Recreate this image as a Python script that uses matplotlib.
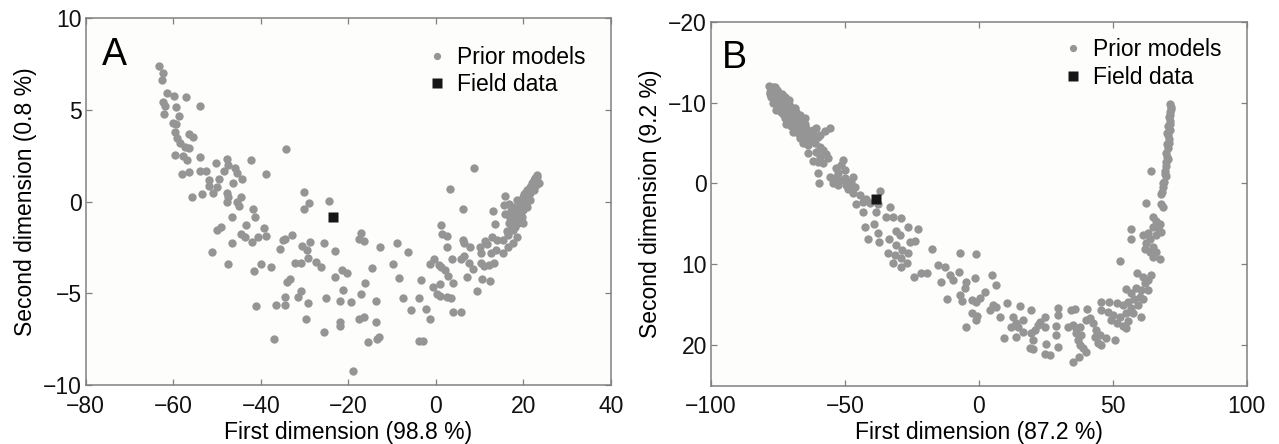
import matplotlib
matplotlib.use("Agg")
import matplotlib.pyplot as plt
from matplotlib.lines import Line2D

plt.rcParams['font.family'] = ['Liberation Sans', 'DejaVu Sans']

# ---------------- Panel A: prior models projected on the first two dimensions
prior_a_x = [
    # upper-left arm
    -63.2, -62.4, -62.6, -61.5, -59.8, -57.0, -62.3, -61.8, -59.4, -53.8,
    -62.05, -58.7, -60.15, -59.4, -59.7, -56.3, -55.4, -59.1, -58.5, -57.3,
    -56.3, -34.3, -59.5, -57.7, -56.8, -53.9, -50.25, -47.8, -47.4, -42.2,
    -46.0, -48.3, -45.5, -44.2, -53.9, -52.5, -58.0, -56.3, -38.7, -51.8,
    -49.65, -46.45, -51.9, -50.1, -47.8, -50.9, -53.45, -47.4, -44.6, -55.7,
    -30.15,
    # lower-left spread
    -47.8, -45.5, -44.9, -29.1, -30.15, -24.5, -41.7, -41.4, -46.6, -43.4,
    -39.3, -50.1, -49.0, -44.5, -43.55, -40.7, -38.7, -42.0, -46.6, -51.2,
    -47.5, -35.0, -34.4, -32.9, -35.6, -30.6, -29.55, -28.8, -25.6, -23.0,
    -29.25, -32.1, -30.8, -27.3, -26.2, -21.5, -20.4, -23.0, -39.9, -37.6,
    -41.6, -34.1, -33.35, -21.3, -30.8, -31.5, -34.4, -25.0, -21.9, -19.5,
    -29.25, -36.55, -34.4, -41.0, -29.7, -21.9, -21.9, -25.6, -37.0, -18.9,
    # lower-right spread
    -17.2, -17.67, -16.45, -12.8, -14.6, -16.3, -17.2, -13.7, -17.5, -16.45,
    -13.7, -15.5, -13.55, -12.95, -8.83, -6.4, -9.75, -8.38, -7.46, -5.64,
    -3.81, -3.35, -2.29, -1.37, -3.81, -3.05, 6.24, 1.22, 1.37, 2.59,
    2.43, 6.24, 6.39, 7.76, -0.46, -1.37, 0.61, 1.22, 2.13, 2.74,
    3.65, 3.8, 5.63, 6.39, 7.46, 8.37, 7.15, -0.76, 0.91, 0.15,
    0.91, 2.59, 3.35, 3.96, 5.63, 9.44, 10.5, 12.33, 10.05, 10.35,
    11.11, 11.57, 12.79, 14.0, 13.09, 13.55, 10.2, 10.96, 12.03, 13.25,
    12.64, 13.7, 15.53, 15.83, 16.75, 15.23, 16.44, 17.51, 18.42, 16.14,
    16.6, 17.66, 17.36, 18.27, 19.18, 19.64, 20.1, 20.71, 21.47, 22.23,
    22.99,
    # upper-right arm
    8.68, 3.2, 15.84, 23.0, 21.47, 21.85, 22.23, 22.61, 20.71, 21.09,
    20.33, 23.15, 22.39, 19.8,
    17.66, 18.12, 18.73, 18.42, 19.03, 19.79, 19.18, 20.1, 20.4, 20.86,
    21.47, 21.77, 22.38, 22.84, 23.45, 18.42, 17.66, 17.2, 16.9, 17.97,
    19.49, 20.71, 19.95, 17.28, 16.52, 15.38,
]
prior_a_y = [
    # upper-left arm
    7.38, 7.0, 6.64, 5.91, 5.78, 5.73, 5.45, 5.22, 5.18, 5.22,
    4.78, 4.67, 4.27, 4.24, 3.8, 3.67, 3.51, 3.45, 3.18, 3.0,
    2.93, 2.89, 2.53, 2.49, 2.27, 2.45, 2.13, 2.31, 2.02, 2.27,
    1.82, 1.69, 1.55, 1.22, 1.69, 1.69, 1.51, 1.64, 1.51, 1.18,
    1.22, 1.0, 0.85, 0.82, 0.49, 0.49, 0.42, 0.24, 0.24, 0.24,
    0.53,
    # lower-left spread
    -0.02, 0.0, -0.23, -0.09, -0.42, 0.04, -0.42, -0.85, -0.82, -1.27,
    -1.42, -1.54, -1.4, -1.78, -1.91, -1.91, -1.87, -2.18, -2.23, -2.74,
    -3.4, -2.09, -2.05, -1.82, -2.58, -2.4, -2.63, -2.2, -2.23, -2.69,
    -3.07, -3.36, -3.36, -3.31, -3.58, -3.72, -3.91, -4.09, -3.4, -3.54,
    -3.76, -4.36, -4.23, -4.82, -4.89, -5.22, -5.18, -5.27, -5.42, -5.47,
    -5.51, -5.63, -5.63, -5.67, -6.42, -6.54, -6.78, -7.11, -7.51, -9.23,
    # lower-right spread
    -1.72, -2.02, -2.13, -2.45, -3.6, -4.45, -5.05, -5.4, -6.42, -6.27,
    -6.56, -7.65, -7.51, -7.4, -2.27, -2.76, -3.38, -4.14, -5.23, -5.91,
    -5.23, -4.27, -5.83, -6.38, -7.58, -7.62, -0.42, -1.27, -1.76, -1.85,
    -2.49, -2.09, -2.23, -2.45, -3.11, -3.4, -3.47, -3.58, -3.72, -4.05,
    -3.14, -4.42, -3.14, -2.96, -3.36, -3.69, -4.13, -4.67, -4.49, -5.03,
    -5.12, -5.18, -5.23, -6.02, -6.0, -4.85, -4.2, -4.31, -2.49, -2.82,
    -2.13, -2.31, -1.94, -2.09, -0.49, -1.22, -3.36, -3.51, -3.47, -3.36,
    -2.82, -2.63, -0.2, -0.67, -0.12, -2.82, -2.45, -2.27, -1.91, -1.58,
    -1.18, -1.0, -0.63, -0.42, -0.54, -0.82, 0.42, 0.64, 0.09, 0.91,
    1.09,
    # upper-right arm
    1.82, 0.67, 0.31, 1.45, 0.82, 1.0, 1.09, 1.27, 0.55, 0.64,
    0.45, 1.36, 1.18, 0.27,
    -1.54, -1.36, -1.18, -0.82, -1.0, -0.45, -0.18, -0.09, 0.18, 0.27,
    0.46, 0.73, 0.64, 0.91, 1.04, 0.09, -0.27, -0.45, -0.91, -0.63,
    0.09, -0.27, -1.18, -1.36, -1.82, -2.09,
]
field_a_x = [-23.6]
field_a_y = [-0.82]

# ---------------- Panel B
prior_b_x = [
    # descending branch
    -78.3, -76.8, -75.3, -78.1, -76.2, -74.3, -72.5, -77.45, -75.6, -73.7,
    -71.85, -76.8, -75.0, -73.1, -71.2, -70.0, -75.6, -73.7, -71.85, -70.0,
    -68.1, -66.9, -72.5, -70.6, -68.7, -66.9, -65.0, -71.85, -70.0, -68.1,
    -66.2, -64.4, -69.4, -67.5, -65.6, -63.75, -61.9, -60.6, -55.7, -57.5,
    -59.4, -60.0, -66.9, -65.0, -63.1, -65.6, -63.75, -61.3, -59.4, -58.15,
    -60.6, -63.75, -56.9, -59.4, -56.3, -61.9, -60.0, -58.15, -50.7, -51.3,
    -53.2, -50.1, -52.55, -60.0, -55.7, -53.8, -51.9, -50.1, -46.9, -47.6,
    -49.4, -52.55, -54.4, -59.6, -48.8, -46.3, -46.9, -44.45, -45.7, -43.2,
    -41.96, -40.7, -37.0, -37.6, -43.2, -38.2, -33.0, -34.5, -32.0, -28.9,
    -77.5, -76.0, -74.8, -73.5, -72.0, -74.0, -72.8, -71.5, -70.5, -69.0,
    -68.5, -67.5, -69.5, -67.0, -65.8, -64.8, -66.0, -64.5, -63.0, -62.5,
    -61.5, -72.0, -73.0, -71.0, -70.0, -75.8, -76.5, -77.8, -70.8, -68.8,
    # middle of the bowl
    -42.5, -39.2, -37.5, -41.5, -37.2, -33.5, -31.0, -29.5, -26.4, -22.7,
    -30.75, -28.5, -25.8, -23.9, -33.9, -31.4, -28.9, -26.4, -32.0, -28.9,
    -26.8, -24.3, -21.4, -19.3, -17.3, -15.3, -12.6, -7.1, -1.1, -14.1,
    -10.8, -9.6, -7.35, -4.6, -5.2, -1.5, -11.8, -7.1, -6.1, -2.4,
    -0.9, 0.4, 2.2, -2.6, -0.6, -1.1, -4.9,
    # bottom of the bowl and rising branch
    62.4, 68.2, 68.85, 65.1, 66.37, 67.61, 65.1, 66.99, 68.2, 63.25,
    61.38, 66.37, 57.0, 57.0, 63.87, 62.63, 62.0, 65.1, 63.87, 66.37,
    65.1, 67.61, 52.7, 59.1, 61.38, 63.25, 64.5, 62.0, 63.25, 60.76,
    58.9, 55.16, 57.0, 60.14, 57.9, 55.78, 61.38, 59.5, 57.0, 53.91,
    51.67, 55.16, 52.7, 57.65, 60.76, 55.78, 53.91, 51.67, 49.55, 50.18,
    48.31, 48.7, 45.82, 45.82, 55.16, 50.8, 47.69, 45.2, 43.33, 44.57,
    45.82, 41.46, 40.22, 42.71, 43.95, 40.47, 37.72, 36.48, 35.24, 33.37,
    36.48, 38.35, 37.1, 37.72, 38.97, 40.22, 37.48, 35.24, 35.86, 34.61,
    29.63, 29.63, 29.01, 29.01, 29.76, 26.52, 24.65, 25.27, 24.65, 22.78,
    24.65, 22.16, 20.92, 19.67, 20.3, 19.67, 15.31, 16.56, 14.07, 12.82,
    14.69, 12.2, 16.56, 14.07, 19.05, 20.3, 10.58, 9.34, 6.6, 5.35,
    4.1, 5.1, 6.6, 7.84,
    # upper right tail
    71.6, 71.97, 71.35, 71.1, 71.6, 70.85, 71.35, 70.6, 71.1, 70.35,
    70.72, 70.1, 70.35, 69.85, 70.1, 64.5, 69.6, 69.85, 69.23, 68.85,
    68.6, 68.23, 71.8, 71.3, 70.9, 70.5, 69.5, 69.0, 71.5, 70.3,
]
prior_b_y = [
    # descending branch
    -12.05, -11.88, -11.56, -11.35, -11.14, -10.94, -10.73, -10.65, -10.4, -10.32,
    -10.11, -9.91, -9.7, -9.58, -9.5, -9.29, -9.08, -8.88, -8.75, -8.67,
    -8.88, -8.46, -8.05, -7.93, -7.85, -7.76, -8.05, -7.35, -7.11, -7.02,
    -7.11, -6.82, -6.41, -6.2, -6.28, -6.41, -6.61, -6.82, -6.82, -6.53,
    -6.0, -5.7, -5.58, -5.46, -5.37, -4.96, -4.76, -5.05, -4.55, -4.14,
    -3.93, -3.81, -3.65, -3.32, -3.11, -2.82, -2.7, -2.49, -2.9, -2.28,
    -1.87, -1.67, -1.25, -1.34, -0.84, -0.64, -0.43, -0.64, -0.84, -0.22,
    0.19, 0.19, -0.02, -0.1, 0.72, 0.39, 1.22, 1.42, 2.54, 2.29,
    1.88, 2.45, 0.97, 2.54, 3.48, 3.48, 2.87, 4.1, 4.1, 4.31,
    -11.6, -11.9, -11.3, -11.0, -10.4, -10.0, -9.9, -9.0, -9.6, -8.9,
    -8.3, -8.2, -7.6, -7.4, -7.6, -7.3, -6.6, -6.0, -6.0, -5.6,
    -5.9, -8.4, -8.6, -8.1, -7.4, -10.5, -10.2, -11.0, -10.3, -9.3,
    # middle of the bowl
    5.42, 5.01, 6.08, 6.9, 7.19, 6.9, 5.83, 6.37, 5.42, 5.58,
    7.6, 8.22, 7.19, 7.07, 8.55, 8.84, 9.25, 8.55, 9.87, 10.28,
    9.87, 11.52, 11.1, 11.02, 8.06, 10.12, 10.28, 8.63, 8.76, 12.18,
    11.31, 11.93, 10.94, 12.18, 12.96, 11.64, 14.24, 13.78, 14.48, 14.4,
    14.61, 14.2, 13.37, 16.05, 16.38, 16.87, 17.78,
    # bottom of the bowl and rising branch
    2.45, 2.53, 2.95, 4.1, 4.6, 5.01, 5.34, 5.54, 5.95, 6.08,
    6.37, 6.37, 5.67, 6.9, 6.9, 7.4, 8.14, 7.81, 8.43, 8.43,
    9.13, 9.37, 9.54, 11.02, 11.52, 11.93, 11.31, 12.34, 13.17, 13.17,
    12.96, 13.08, 13.58, 13.99, 14.32, 14.61, 14.32, 15.02, 15.43, 15.02,
    14.81, 16.05, 16.46, 16.05, 16.54, 16.96, 17.61, 17.29, 16.87, 16.26,
    15.84, 14.61, 14.61, 15.64, 17.9, 19.35, 19.14, 18.73, 18.93, 19.76,
    19.96, 16.67, 16.87, 17.29, 18.11, 15.55, 17.7, 17.9, 17.49, 17.7,
    18.52, 18.73, 19.35, 19.96, 20.38, 20.79, 21.4, 22.02, 15.55, 15.64,
    15.43, 16.26, 17.61, 18.73, 20.17, 21.2, 21.08, 19.84, 16.54, 17.08,
    17.7, 17.49, 18.11, 18.52, 19.35, 15.64, 15.14, 16.87, 17.2, 16.46,
    17.7, 17.7, 18.32, 18.93, 20.38, 20.5, 14.81, 19.14, 15.31, 15.02,
    15.64, 11.31, 12.55, 16.54,
    # upper right tail
    -9.82, -9.41, -8.88, -8.26, -7.77, -7.11, -6.61, -6.0, -5.46, -4.88,
    -4.35, -3.81, -3.32, -2.7, -2.16, -1.58, -1.58, -0.92, -0.22, 0.39,
    1.01, 1.34, -9.2, -7.3, -5.0, -3.0, -1.2, 0.0, -8.5, -6.3,
]
field_b_x = [-38.5]
field_b_y = [1.9]

xticks_a = [-80, -60, -40, -20, 0, 20, 40]
yticks_a = [-10, -5, 0, 5, 10]
xticks_b = [-100, -50, 0, 50, 100]
yticks_b = [-20, -10, 0, 10, 20]

PRIOR = '#959595'
FIELD = '#161616'
SPINE = '#808080'
FS = 16.5

fig = plt.figure(figsize=(12.79, 4.44), dpi=100)
fig.patch.set_facecolor('white')

ax_a = fig.add_axes([85.7 / 1279, (444 - 385) / 444, 525.3 / 1279, 366.7 / 444])
ax_b = fig.add_axes([711 / 1279, (444 - 385.7) / 444, 535.5 / 1279, 364 / 444])


def style(ax):
    ax.set_facecolor('#fdfdfb')
    for s in ax.spines.values():
        s.set_color(SPINE)
        s.set_linewidth(1.1)
    ax.tick_params(direction='in', top=True, right=True, length=4.5,
                   width=0.9, color=SPINE, labelsize=FS, labelcolor='#111111')
    ax.tick_params(axis='x', pad=7)
    ax.tick_params(axis='y', pad=3)


# Panel A
ax_a.plot(prior_a_x, prior_a_y, 'o', ms=6.0, color=PRIOR, mec='none')
ax_a.plot(field_a_x, field_a_y, 's', ms=7.6, color=FIELD, mec='none')
ax_a.set_xlim(-80, 40)
ax_a.set_ylim(-10, 10)
ax_a.set_xticks(xticks_a)
ax_a.set_yticks(yticks_a)
style(ax_a)
ax_a.set_xlabel('First dimension (98.8 %)', fontsize=FS, labelpad=2)
ax_a.set_ylabel('Second dimension (0.8 %)', fontsize=FS, labelpad=4)
ax_a.text(0.03, 0.95, 'A', transform=ax_a.transAxes, fontsize=27,
          ha='left', va='top')

# Panel B
ax_b.plot(prior_b_x, prior_b_y, 'o', ms=6.0, color=PRIOR, mec='none')
ax_b.plot(field_b_x, field_b_y, 's', ms=7.6, color=FIELD, mec='none')
ax_b.set_xlim(-100, 100)
ax_b.set_ylim(25, -20)
ax_b.set_xticks(xticks_b)
ax_b.set_yticks(yticks_b)
style(ax_b)
ax_b.set_xlabel('First dimension (87.2 %)', fontsize=FS, labelpad=2)
ax_b.set_ylabel('Second dimension (9.2 %)', fontsize=FS, labelpad=4)
ax_b.text(0.02, 0.95, 'B', transform=ax_b.transAxes, fontsize=27,
          ha='left', va='top')

handles = [
    Line2D([], [], ls='none', marker='o', ms=5.2, color=PRIOR, mec='none'),
    Line2D([], [], ls='none', marker='s', ms=6.8, color=FIELD, mec='none'),
]
labels = ['Prior models', 'Field data']
for ax, anchor in ((ax_a, (0.952, 0.925)), (ax_b, (0.954, 0.955))):
    ax.legend(handles, labels, loc='upper right', bbox_to_anchor=anchor,
              frameon=False, fontsize=FS, borderpad=0, borderaxespad=0,
              handlelength=0.8, handletextpad=0.5, labelspacing=0.2)

fig.savefig('out.png', dpi=100, facecolor='white')
